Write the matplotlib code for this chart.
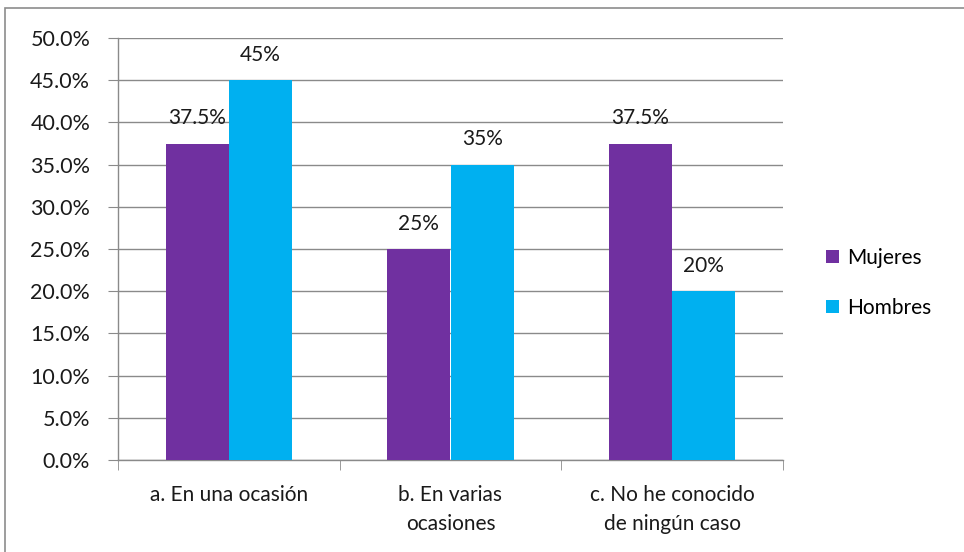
import numpy as np
import matplotlib.pyplot as plt
from matplotlib.patches import Rectangle
from matplotlib.ticker import FuncFormatter

plt.rcParams['font.family'] = ['Lato', 'DejaVu Sans']

categorias = ["a. En una ocasión", "b. En varias\nocasiones", "c. No he conocido\nde ningún caso"]
mujeres = [37.5, 25, 37.5]
hombres = [45, 35, 20]
etiquetas_mujeres = ["37.5%", "25%", "37.5%"]
etiquetas_hombres = ["45%", "35%", "20%"]

fig = plt.figure(figsize=(9.64, 5.52), dpi=100)
ax = fig.add_axes([118/964, 1 - 460/552, (783 - 118)/964, (460 - 38)/552])

# marco exterior del gráfico
fig.patches.append(Rectangle((5/964, -0.1), 1.1, 1 - 8/552 + 0.1, transform=fig.transFigure,
                             fill=False, edgecolor='#8c8c8c', linewidth=1.2))

x = np.arange(len(categorias))
ancho = 1 / 3.5
b1 = ax.bar(x - ancho/2, mujeres, ancho, color='#7030A0', label='Mujeres', zorder=3)
b2 = ax.bar(x + ancho/2, hombres, ancho, color='#00B0F0', label='Hombres', zorder=3)

for barras, etiquetas in [(b1, etiquetas_mujeres), (b2, etiquetas_hombres)]:
    for rect, txt in zip(barras, etiquetas):
        ax.annotate(txt, (rect.get_x() + rect.get_width()/2, rect.get_height()),
                    xytext=(0, 11), textcoords='offset points', ha='center', va='bottom',
                    fontsize=15, color='#1a1a1a', zorder=2)

ax.set_xlim(-0.5, 2.5)
ax.set_ylim(0, 50)
ax.set_yticks(np.arange(0, 51, 5))
ax.yaxis.set_major_formatter(FuncFormatter(lambda v, p: f"{v:.1f}%"))
ax.grid(axis='y', color='#8a8a8a', linewidth=1, zorder=0)

ax.set_xticks(x)
ax.set_xticklabels(categorias, fontsize=15, color='#1a1a1a', linespacing=1.55)
ax.set_xticks([-0.5, 0.5, 1.5, 2.5], minor=True)
ax.tick_params(axis='x', which='major', length=0, pad=18)
ax.tick_params(axis='x', which='minor', length=7, color='#8a8a8a', direction='out')
ax.tick_params(axis='y', length=7, color='#8a8a8a', labelsize=15.5, labelcolor='#1a1a1a', pad=13)

for lado in ['top', 'right']:
    ax.spines[lado].set_visible(False)
for lado in ['left', 'bottom']:
    ax.spines[lado].set_color('#8a8a8a')
    ax.spines[lado].set_linewidth(1)

ax.legend(loc='center left', bbox_to_anchor=(1.037, 0.42), frameon=False, fontsize=15,
          handlelength=0.6, handleheight=0.6, handletextpad=0.4, labelspacing=1.45)

fig.savefig('out.png', dpi=100)
